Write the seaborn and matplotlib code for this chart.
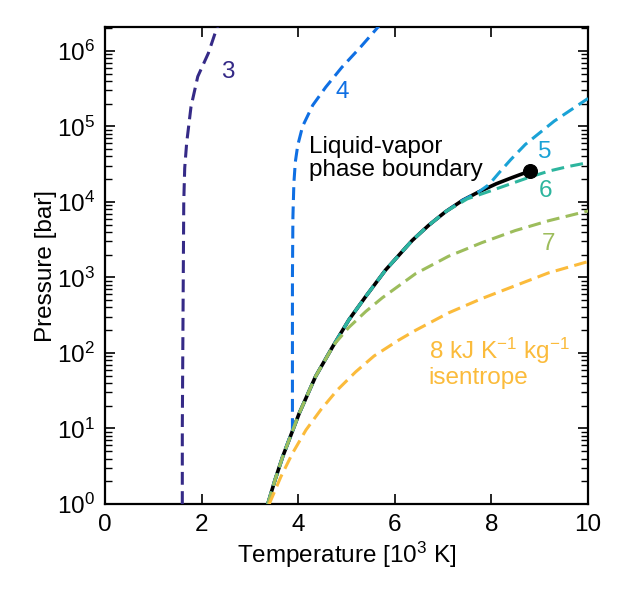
import matplotlib
matplotlib.use("Agg")
import matplotlib.pyplot as plt
from matplotlib.ticker import LogLocator, NullFormatter, NullLocator
import seaborn as sns
import numpy as np

# phase boundary (T in 10^3 K, log10 P in bar)
boundary_t = [3.37, 3.52, 3.68, 4.02, 4.36, 4.71, 5.05, 5.40, 5.81, 6.36, 6.70, 7.05, 7.40, 7.73, 8.10, 8.42, 8.80]
boundary_logp = [0.00, 0.32, 0.63, 1.20, 1.69, 2.08, 2.44, 2.75, 3.10, 3.49, 3.69, 3.87, 4.02, 4.13, 4.24, 4.32, 4.41]

# isentropes, kJ K^-1 kg^-1
s3_t = [1.60, 1.60, 1.61, 1.62, 1.63, 1.65, 1.69, 1.78, 1.92, 2.14, 2.34]
s3_logp = [0.00, 1.00, 2.00, 3.00, 4.00, 4.45, 4.78, 5.26, 5.66, 5.97, 6.35]

s4_t = [3.37, 3.52, 3.68, 3.88, 3.88, 3.88, 3.89, 3.91, 3.94, 3.99, 4.09, 4.30, 4.57, 4.90, 5.29, 5.70]
s4_logp = [0.00, 0.32, 0.63, 0.98, 2.00, 3.00, 3.80, 4.25, 4.53, 4.75, 5.00, 5.28, 5.52, 5.78, 6.05, 6.35]

s5_t = [3.37, 3.52, 3.68, 4.02, 4.36, 4.71, 5.05, 5.40, 5.81, 6.36, 6.70, 7.05, 7.40, 7.73, 7.95, 8.15, 8.40, 8.70, 9.30, 10.0]
s5_logp = [0.00, 0.32, 0.63, 1.20, 1.69, 2.08, 2.44, 2.75, 3.10, 3.49, 3.69, 3.87, 4.02, 4.13, 4.23, 4.38, 4.56, 4.76, 5.07, 5.37]

s6_t = [3.37, 3.52, 3.68, 4.02, 4.36, 4.71, 5.05, 5.40, 5.81, 6.36, 6.70, 7.05, 7.50, 8.00, 8.40, 8.80, 9.20, 9.60, 10.0]
s6_logp = [0.00, 0.32, 0.63, 1.20, 1.69, 2.08, 2.44, 2.75, 3.10, 3.49, 3.69, 3.87, 4.04, 4.15, 4.24, 4.33, 4.41, 4.47, 4.52]

s7_t = [3.37, 3.52, 3.68, 4.02, 4.36, 4.74, 5.05, 5.40, 5.74, 6.43, 7.11, 7.80, 8.49, 9.18, 10.0]
s7_logp = [0.00, 0.32, 0.63, 1.20, 1.69, 2.11, 2.34, 2.55, 2.73, 3.05, 3.28, 3.46, 3.62, 3.75, 3.88]

s8_t = [3.40, 3.64, 3.88, 4.16, 4.47, 4.81, 5.19, 5.57, 6.08, 6.43, 7.11, 7.80, 8.49, 9.18, 10.0]
s8_logp = [0.00, 0.36, 0.67, 0.98, 1.25, 1.51, 1.75, 1.96, 2.17, 2.30, 2.53, 2.72, 2.89, 3.06, 3.21]

critical_t = [8.80]
critical_logp = [4.41]

isentropes = [
    ("3", s3_t, s3_logp, "#352a87"),
    ("4", s4_t, s4_logp, "#0f6fe3"),
    ("5", s5_t, s5_logp, "#1aa2d6"),
    ("6", s6_t, s6_logp, "#2db59e"),
    ("7", s7_t, s7_logp, "#9dbd5c"),
    ("8", s8_t, s8_logp, "#fbbb3b"),
]

sns.set_style("ticks")
plt.rcParams['font.family'] = ['Liberation Sans', 'DejaVu Sans']
plt.rcParams['mathtext.fontset'] = 'custom'
plt.rcParams['mathtext.rm'] = 'Liberation Sans'
plt.rcParams['mathtext.it'] = 'Liberation Sans:italic'
plt.rcParams['mathtext.default'] = 'regular'
for key in ['text.color', 'axes.labelcolor', 'axes.edgecolor', 'xtick.color', 'ytick.color']:
    plt.rcParams[key] = 'black'
plt.rcParams['ytick.minor.visible'] = True

fig = plt.figure(figsize=(6.3, 6), dpi=100)
ax = fig.add_axes([0.1667, 0.16, 0.7667, 0.795])

sns.lineplot(x=boundary_t, y=10 ** np.array(boundary_logp), ax=ax, color="black",
             lw=2.6, estimator=None, sort=False, zorder=2)

for name, t, lp, col in isentropes:
    sns.lineplot(x=t, y=10 ** np.array(lp), ax=ax, color=col, lw=2.2,
                 linestyle=(0, (4.2, 2.1)), estimator=None, sort=False, zorder=3)

sns.scatterplot(x=critical_t, y=10 ** np.array(critical_logp), ax=ax, color="black",
                s=100, edgecolor="black", zorder=5)

ax.set_yscale("log")
ax.set_xlim(0, 10)
ax.set_ylim(1, 2.07e6)
ax.set_xticks([0, 2, 4, 6, 8, 10])
ax.xaxis.set_minor_locator(NullLocator())
ax.yaxis.set_major_locator(LogLocator(base=10, numticks=20))
ax.yaxis.set_minor_locator(LogLocator(base=10, subs=np.arange(2, 10), numticks=40))
ax.yaxis.set_minor_formatter(NullFormatter())

fs = 17.5
ax.set_xlabel("Temperature [10$^3$ K]", fontsize=fs, labelpad=3)
ax.set_ylabel("Pressure [bar]", fontsize=fs, labelpad=0)
ax.tick_params(which="both", direction="in", top=True, right=True, labelsize=fs)
ax.tick_params(which="major", length=7, width=1.2, pad=7)
ax.yaxis.set_tick_params(which="minor", length=5, width=1.0, color="black",
                         left=True, right=True)
for sp in ax.spines.values():
    sp.set_linewidth(1.6)
    sp.set_color("black")

ax.text(2.54, 10 ** 5.72, "3", color="#352a87", fontsize=fs, ha="center", va="center")
ax.text(4.91, 10 ** 5.46, "4", color="#0f6fe3", fontsize=fs, ha="center", va="center")
ax.text(9.11, 10 ** 4.66, "5", color="#1aa2d6", fontsize=fs, ha="center", va="center")
ax.text(9.11, 10 ** 4.15, "6", color="#2db59e", fontsize=fs, ha="center", va="center")
ax.text(9.18, 10 ** 3.44, "7", color="#9dbd5c", fontsize=fs, ha="center", va="center")
ax.text(4.23, 10 ** 4.58, "Liquid-vapor\nphase boundary", color="black", fontsize=fs,
        ha="left", va="center", linespacing=1.05)
ax.text(6.70, 10 ** 1.88, "8 kJ K$^{-1}$ kg$^{-1}$\nisentrope", color="#fbbb3b",
        fontsize=fs, ha="left", va="center", linespacing=1.05)

fig.savefig("out.png", dpi=100)
